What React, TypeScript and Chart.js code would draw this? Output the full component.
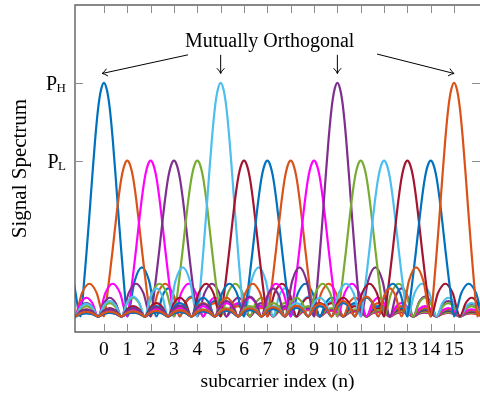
import React, { useEffect, useRef } from 'react';
import { Chart, registerables } from 'chart.js';

Chart.register(...registerables);

// ---------- data ----------
const SUBCARRIERS = [0, 1, 2, 3, 4, 5, 6, 7, 8, 9, 10, 11, 12, 13, 14, 15];
const P_H = 1.5;
const P_L = 1.0;
const POWER_LEVEL = ['H', 'L', 'L', 'L', 'L', 'H', 'L', 'L', 'L', 'L', 'H', 'L', 'L', 'L', 'L', 'H'];
const COLORS = [
  '#0072BD', '#D95319', '#FF00FF', '#7E2F8E', '#77AC30', '#4DBEEE', '#A2142F',
  '#0072BD', '#D95319', '#FF00FF', '#7E2F8E', '#77AC30', '#4DBEEE', '#A2142F',
  '#0072BD', '#D95319',
];

// pulse shape (offset in subcarriers, relative level)
const MAIN_LOBE_OFFSETS = [0, 0.125, 0.25, 0.375, 0.5, 0.625, 0.75, 0.875];
const MAIN_LOBE_LEVELS = [1, 0.97, 0.89, 0.76, 0.6, 0.43, 0.27, 0.12];
const SIDELOBE_EDGES = [1, 2.25, 3.25, 4.25, 5.25, 6.25, 7.25, 8.25, 9.25, 10.25, 11.25, 12.25, 13.25, 14.25, 15.25, 16.25, 17.25];
const SIDELOBE_PEAKS = [0.21, 0.12, 0.085, 0.066, 0.054, 0.046, 0.04, 0.035, 0.031, 0.028, 0.026, 0.024, 0.022, 0.02, 0.019, 0.018];
const SIDELOBE_SHAPE_AT = [0.25, 0.5, 0.75];
const SIDELOBE_SHAPE = [0.72, 1, 0.72];

const X_TICKS = SUBCARRIERS;
const Y_TICK_VALUES = [P_H, P_L];
const Y_TICK_SUBSCRIPTS = ['H', 'L'];

const ANNOTATION_TEXT = 'Mutually Orthogonal';
const ANNOTATION_POS = [7.1, 1.73];
const ARROW_TAILS = [[3.6, 1.68], [5, 1.68], [10, 1.68], [11.7, 1.685]];
const ARROW_HEADS = [[-0.08, 1.56], [5, 1.56], [10, 1.56], [15, 1.56]];

const X_MIN = -1.24;
const X_MAX = 16.11;
const Y_MIN = -0.1;
const Y_MAX = 2.0;

const FONT = "'Liberation Serif', 'Times New Roman', serif";

// ---------- build pulse profile ----------
function buildProfile(): number[][] {
  const half: number[][] = [];
  MAIN_LOBE_OFFSETS.forEach((o, i) => half.push([o, MAIN_LOBE_LEVELS[i]]));
  SIDELOBE_PEAKS.forEach((p, k) => {
    const a = SIDELOBE_EDGES[k];
    const b = SIDELOBE_EDGES[k + 1];
    half.push([a, 0]);
    SIDELOBE_SHAPE_AT.forEach((f, j) => half.push([a + (b - a) * f, p * SIDELOBE_SHAPE[j]]));
  });
  half.push([SIDELOBE_EDGES[SIDELOBE_EDGES.length - 1], 0]);
  const neg = half.slice(1).map(([o, l]) => [-o, l]).reverse();
  return [...neg, ...half];
}

const framePlugin = {
  id: 'frame',
  afterDraw(chart: any) {
    const { ctx, chartArea: a, scales } = chart;
    const xs = scales.x;
    const ys = scales.y;
    ctx.save();
    // frame
    ctx.strokeStyle = '#606060';
    ctx.lineWidth = 1.4;
    ctx.beginPath();
    ctx.moveTo(a.right + 1, a.top);
    ctx.lineTo(a.left, a.top);
    ctx.lineTo(a.left, a.bottom);
    ctx.lineTo(a.right + 1, a.bottom);
    ctx.stroke();
    // inward ticks
    ctx.strokeStyle = '#8c8c8c';
    ctx.lineWidth = 1;
    ctx.beginPath();
    X_TICKS.forEach((v) => {
      const px = Math.round(xs.getPixelForValue(v)) + 0.5;
      ctx.moveTo(px, a.bottom);
      ctx.lineTo(px, a.bottom - 8);
      ctx.moveTo(px, a.top);
      ctx.lineTo(px, a.top + 8);
    });
    Y_TICK_VALUES.forEach((v) => {
      const py = Math.round(ys.getPixelForValue(v)) + 0.5;
      ctx.moveTo(a.left, py);
      ctx.lineTo(a.left + 8, py);
      ctx.moveTo(a.right, py);
      ctx.lineTo(a.right - 8, py);
    });
    ctx.stroke();

    // y tick labels P_H, P_L
    ctx.fillStyle = '#000';
    ctx.textBaseline = 'alphabetic';
    Y_TICK_VALUES.forEach((v, i) => {
      const py = ys.getPixelForValue(v);
      ctx.font = `13px ${FONT}`;
      ctx.textAlign = 'right';
      const subX = a.left - 9;
      ctx.fillText(Y_TICK_SUBSCRIPTS[i], subX, py + 9);
      const sw = ctx.measureText(Y_TICK_SUBSCRIPTS[i]).width;
      ctx.font = `20px ${FONT}`;
      ctx.fillText('P', subX - sw + 0.5, py + 7.5);
    });

    // annotation
    ctx.font = `20px ${FONT}`;
    ctx.textAlign = 'center';
    ctx.fillText(ANNOTATION_TEXT, xs.getPixelForValue(ANNOTATION_POS[0]), ys.getPixelForValue(ANNOTATION_POS[1]));
    ctx.strokeStyle = '#000';
    ctx.lineWidth = 1;
    ARROW_TAILS.forEach((t, i) => {
      const x1 = xs.getPixelForValue(t[0]);
      const y1 = ys.getPixelForValue(t[1]);
      const x2 = xs.getPixelForValue(ARROW_HEADS[i][0]);
      const y2 = ys.getPixelForValue(ARROW_HEADS[i][1]);
      ctx.beginPath();
      ctx.moveTo(x1, y1);
      ctx.lineTo(x2, y2);
      ctx.stroke();
      const ang = Math.atan2(y2 - y1, x2 - x1);
      const L = 6.5;
      [-1, 1].forEach((s) => {
        const bx = x2 - L * Math.cos(ang + s * 0.62);
        const by = y2 - L * Math.sin(ang + s * 0.62);
        const cx = x2 - 2.2 * Math.cos(ang + s * 0.25);
        const cy = y2 - 2.2 * Math.sin(ang + s * 0.25);
        ctx.beginPath();
        ctx.moveTo(bx, by);
        ctx.quadraticCurveTo(cx, cy, x2, y2);
        ctx.stroke();
      });
    });
    ctx.restore();
  },
};

export default function App() {
  const ref = useRef<HTMLCanvasElement | null>(null);

  useEffect(() => {
    const canvas = ref.current;
    if (!canvas) return;
    const profile = buildProfile();
    const datasets = SUBCARRIERS.map((n, i) => {
      const amp = POWER_LEVEL[i] === 'H' ? P_H : P_L;
      return {
        label: `n=${n}`,
        data: profile.map(([o, l]) => ({ x: n + o, y: amp * l })),
        borderColor: COLORS[i],
        backgroundColor: COLORS[i],
        borderWidth: 2.2,
        pointRadius: 0,
        fill: false,
        cubicInterpolationMode: 'monotone' as const,
        order: SUBCARRIERS.length - 1 - i,
      };
    });

    const chart = new Chart(canvas, {
      type: 'line',
      data: { datasets },
      options: {
        responsive: false,
        animation: false,
        events: [],
        layout: { padding: { top: 5, left: 0, right: 0, bottom: 0 } },
        plugins: { legend: { display: false }, tooltip: { enabled: false } },
        scales: {
          x: {
            type: 'linear',
            min: X_MIN,
            max: X_MAX,
            afterBuildTicks: (s: any) => {
              s.ticks = X_TICKS.map((v) => ({ value: v }));
            },
            afterFit: (s: any) => {
              s.height = 62;
            },
            grid: { display: false, drawTicks: false },
            border: { display: false },
            ticks: {
              color: '#000',
              font: { family: FONT, size: 19.5 },
              padding: 6,
              maxRotation: 0,
              autoSkip: false,
            },
            title: {
              display: true,
              text: 'subcarrier index (n)',
              color: '#000',
              font: { family: FONT, size: 19.5 },
              padding: { top: 0, bottom: 0 },
            },
          },
          y: {
            type: 'linear',
            min: Y_MIN,
            max: Y_MAX,
            afterBuildTicks: (s: any) => {
              s.ticks = Y_TICK_VALUES.map((v) => ({ value: v }));
            },
            afterFit: (s: any) => {
              s.width = 75;
            },
            grid: { display: false, drawTicks: false },
            border: { display: false },
            ticks: { display: false },
            title: {
              display: true,
              text: 'Signal Spectrum',
              color: '#000',
              font: { family: FONT, size: 21 },
              padding: { top: 8, bottom: 0 },
            },
          },
        },
      },
      plugins: [framePlugin],
    });
    return () => chart.destroy();
  }, []);

  return (
    <div style={{ position: 'fixed', left: 0, top: 0, width: 480, height: 394, background: '#fff' }}>
      <canvas ref={ref} width={480} height={394} style={{ display: 'block' }} />
    </div>
  );
}
